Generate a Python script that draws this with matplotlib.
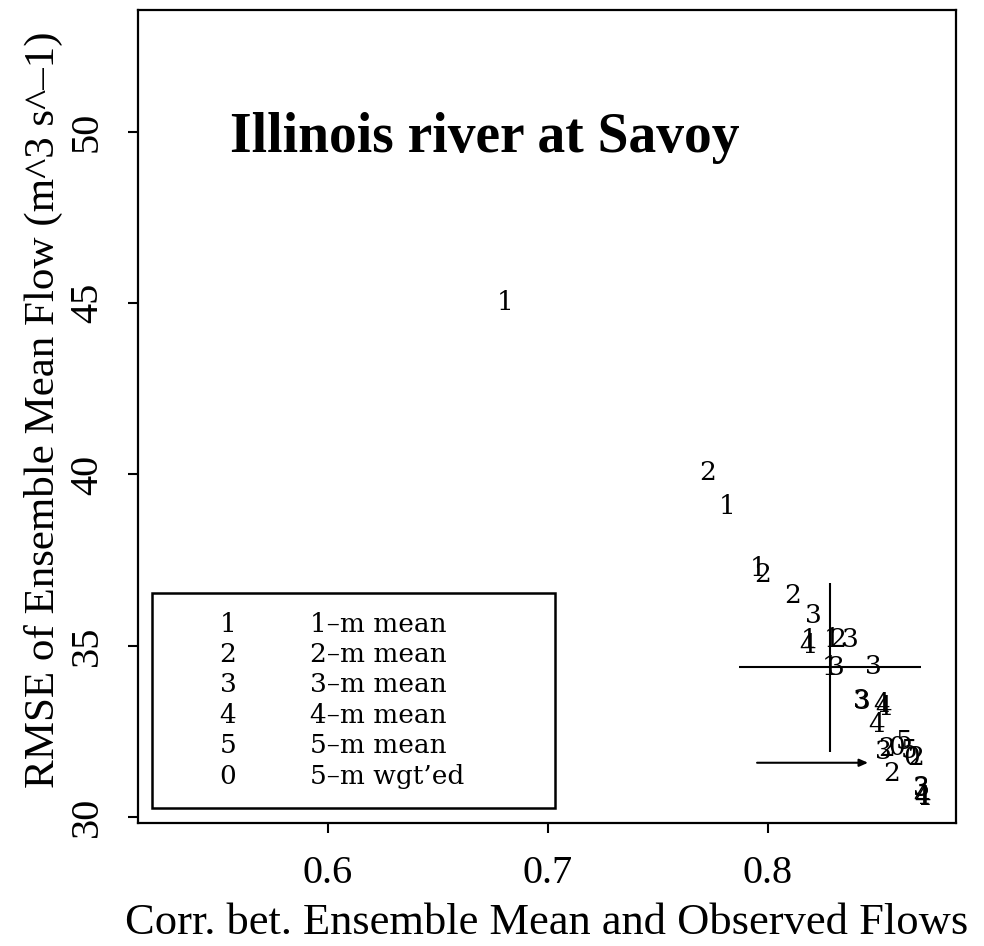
import matplotlib as mpl
mpl.use('Agg')
import matplotlib.pyplot as plt
from matplotlib.patches import Rectangle

# ensemble members: digit = months averaged, 0 = weighted 5-month mean
labels = ['1', '2', '1', '1', '2', '2', '3', '1', '4', '1', '2', '3',
          '1', '3', '3', '3', '3', '4', '4', '4', '5', '3', '2', '0',
          '5', '0', '2', '2', '3', '3', '4', '4']
corr = [0.6805, 0.7729, 0.7815, 0.7956, 0.7979, 0.8116, 0.8207, 0.8188,
        0.8184, 0.8293, 0.8320, 0.8375, 0.8284, 0.8311, 0.8480, 0.8429,
        0.8433, 0.8520, 0.8527, 0.8498, 0.8620, 0.8525, 0.8540, 0.8589,
        0.8645, 0.8657, 0.8675, 0.8566, 0.8698, 0.8701, 0.8702, 0.8705]
rmse = [45.03, 40.07, 39.08, 37.27, 37.07, 36.48, 35.90, 35.17,
        35.00, 35.20, 35.20, 35.20, 34.36, 34.36, 34.39, 33.40,
        33.37, 33.28, 33.20, 32.70, 32.20, 31.91, 32.00, 32.03,
        31.95, 31.74, 31.75, 31.29, 30.88, 30.85, 30.62, 30.59]

# mean +/- spread cross
cross_x, cross_y = 0.8284, 34.37
cross_xerr, cross_yerr = 0.0415, 2.47
# arrow toward the best cluster
arrow_from = (0.7952, 31.59)
arrow_to = (0.8457, 31.59)

leg_sym = ['1', '2', '3', '4', '5', '0']
leg_txt = ['1\u2013m mean', '2\u2013m mean', '3\u2013m mean', '4\u2013m mean',
           '5\u2013m mean', '5\u2013m wgt\u2019ed']

serif = 'Liberation Serif'
digit_font = 'DejaVu Serif'

fig = plt.figure(figsize=(9.84, 9.46), dpi=100)
ax = fig.add_axes([0.140, 0.1303, 0.8315, 0.8591])
ax.set_xlim(0.5134, 0.8857)
ax.set_ylim(29.84, 53.55)

for lab, x, y in zip(labels, corr, rmse):
    ax.text(x, y, lab, ha='center', va='center', fontsize=19,
            family=digit_font)

ax.errorbar([cross_x], [cross_y], xerr=[cross_xerr], yerr=[cross_yerr],
            fmt='none', ecolor='black', elinewidth=1.5, capsize=0)
ax.annotate('', xy=arrow_to, xytext=arrow_from,
            arrowprops=dict(arrowstyle='-|>,head_length=0.5,head_width=0.22',
                            color='black', lw=1.5, shrinkA=0, shrinkB=0))

ax.text(0.4244, 0.8253, 'Illinois river at Savoy', transform=ax.transAxes,
        ha='center', va='baseline', fontsize=40, fontweight='bold',
        family=serif)

# legend box
ax.add_patch(Rectangle((0.0171, 0.0177), 0.4929, 0.2646,
                       transform=ax.transAxes, fill=False, lw=1.8,
                       edgecolor='black'))
for i, (s, t) in enumerate(zip(leg_sym, leg_txt)):
    yy = 0.2445 - i * 0.0374
    ax.text(0.1104, yy, s, transform=ax.transAxes, ha='center',
            va='center', fontsize=19, family=digit_font)
    ax.text(0.2107, yy, t, transform=ax.transAxes, ha='left',
            va='center', fontsize=19, family=digit_font)

ax.set_xticks([0.6, 0.7, 0.8])
ax.set_xticklabels(['0.6', '0.7', '0.8'])
ax.set_yticks([30, 35, 40, 45, 50])
ax.set_yticklabels(['30', '35', '40', '45', '50'])
ax.tick_params(axis='x', direction='out', length=7, width=1.5, pad=16,
               labelsize=29)
ax.tick_params(axis='y', direction='out', length=7, width=1.5, pad=16,
               labelsize=29, labelrotation=90)
for lbl in ax.get_xticklabels() + ax.get_yticklabels():
    lbl.set_family(serif)
for lbl in ax.get_yticklabels():
    lbl.set_va('center')
for sp in ax.spines.values():
    sp.set_linewidth(1.6)

fig.text(547 / 984, 1 - 923 / 946,
         'Corr. bet. Ensemble Mean and Observed Flows',
         ha='center', va='center', fontsize=32, family=serif)
fig.text(43 / 984, 1 - 410 / 946,
         'RMSE of Ensemble Mean Flow (m^3 s^\u20131)',
         ha='center', va='center', rotation=90, fontsize=31, family=serif)

fig.savefig('out.png', dpi=100)
